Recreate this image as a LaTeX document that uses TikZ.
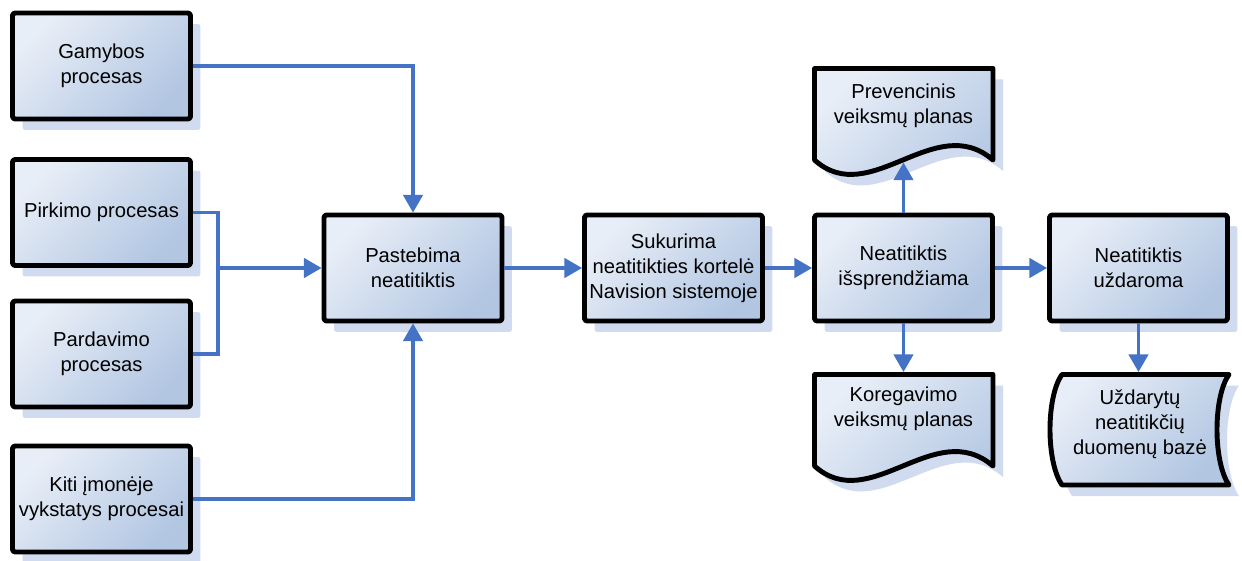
\documentclass[tikz,border=0pt]{standalone}
\usepackage{fontspec}
\setmainfont{Liberation Sans}
\usetikzlibrary{arrows.meta, shadows}

\definecolor{linkblue}{RGB}{68,114,196}
\definecolor{boxlight}{RGB}{232,238,247}
\definecolor{boxdark}{RGB}{178,198,226}
\definecolor{shadowblue}{RGB}{208,219,240}

\tikzset{
  sheet/.style={draw=black, line width=2.8pt, line join=round,
    top color=boxlight, bottom color=boxdark, shading angle=45,
    drop shadow={shadow xshift=0.2cm, shadow yshift=-0.22cm, fill=shadowblue, opacity=1}},
  proc/.style={sheet, rounded corners=1.5pt, minimum width=3.56cm, minimum height=2.12cm,
    align=center, inner sep=1pt},
  plain/.style={align=center, inner sep=1pt},
  wire/.style={draw=linkblue, line width=1.8pt},
  flow/.style={wire, -{Triangle[length=10pt,width=11pt]}}
}

\begin{document}
\begin{tikzpicture}[x=0.02cm, y=-0.02cm, font=\fontsize{11.5}{14.2}\selectfont]
  \useasboundingbox (0,0) rectangle (1242,561);
  % processes
  \node[proc] (gam) at (101.5,66) {Gamybos\\procesas};
  \node[proc] (pir) at (101.5,212.5) {Pirkimo procesas};
  \node[proc] (par) at (101.5,354) {Pardavimo\\procesas};
  \node[proc] (kit) at (101.5,499) {Kiti įmonėje\\vykstatys procesai};
  \node[proc] (pas) at (413,268) {Pastebima\\neatitiktis};
  \node[proc] (suk) at (673.5,268) {Sukurima\\neatitikties kortelė\\Navision sistemoje};
  \node[proc] (spr) at (903.5,268) {Neatitiktis\\išsprendžiama};
  \node[proc] (uzd) at (1138.5,268) {Neatitiktis\\uždaroma};
  % documents
  \begin{scope}[shift={(812,66)}]
    \draw[sheet] (2.5,2.5) -- (181,2.5) -- (181,94) .. controls (123,44) and (58,144) .. (2.5,94) -- cycle;
    \coordinate (prevtip) at (91.5,96.5);
  \end{scope}
  \node[plain] (prev) at (903.5,105.5) {Prevencinis\\veiksmų planas};
  \begin{scope}[shift={(812,372)}]
    \draw[sheet] (2.5,2.5) -- (181,2.5) -- (181,94) .. controls (123,44) and (58,144) .. (2.5,94) -- cycle;
    \coordinate (kortop) at (91.5,0);
  \end{scope}
  \node[plain] (kor) at (903.5,409) {Koregavimo\\veiksmų planas};
  % stored data
  \begin{scope}[shift={(1047,372)}]
    \draw[sheet] (15,2.5) -- (182,2.5) .. controls (166,25) and (166,90) .. (182,113)
      -- (15,113) .. controls (-1,90) and (-1,25) .. (15,2.5) -- cycle;
    \coordinate (dbtop) at (91.5,0);
  \end{scope}
  \node[plain] (db) at (1140,424) {Uždarytų\\neatitikčių\\duomenų bazė};
  % connectors
  \draw[flow] (gam.east) -| (pas.north);
  \draw[wire] (pir.east) -- ++(25,0) |- (par.east);
  \coordinate (merge) at (218,268);
  \draw[flow] (merge) -- (pas.west);
  \draw[flow] (kit.east) -| (pas.south);
  \draw[flow] (pas.east) -- (suk.west);
  \draw[flow] (suk.east) -- (spr.west);
  \draw[flow] (spr.east) -- (uzd.west);
  \draw[flow] (spr.north) -- (prevtip);
  \draw[flow] (spr.south) -- (kortop);
  \draw[flow] (uzd.south) -- (dbtop);
\end{tikzpicture}
\end{document}
